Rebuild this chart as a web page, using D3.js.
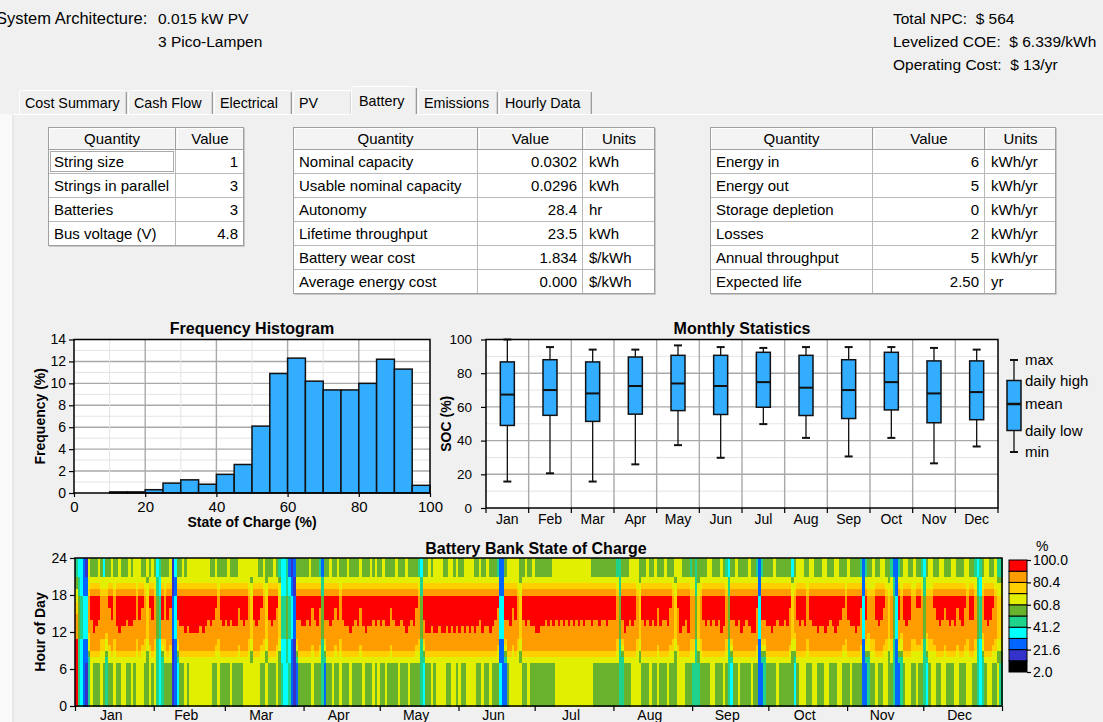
<!DOCTYPE html>
<html>
<head>
<meta charset="utf-8">
<script src="https://cdn.jsdelivr.net/npm/d3@7"></script>
<style>
  html, body { margin: 0; padding: 0; background: #f0f0f0; }
  svg { display: block; font-family: "Liberation Sans", Arial, sans-serif; }
  text { fill: #000; }
</style>
</head>
<body>
<svg id="chart" width="1103" height="722"></svg>
<script>
// ---------------- summary header ----------------
const architectureLabel = "System Architecture:";
const architecture = ["0.015 kW PV", "3 Pico-Lampen"];
const summaryLabels = ["Total NPC:", "Levelized COE:", "Operating Cost:"];
const summaryValues = ["$ 564", "$ 6.339/kWh", "$ 13/yr"];
const tabNames = ["Cost Summary", "Cash Flow", "Electrical", "PV", "Battery", "Emissions", "Hourly Data"];
const activeTab = "Battery";

// ---------------- battery tables ----------------
const stringQuantities = ["String size", "Strings in parallel", "Batteries", "Bus voltage (V)"];
const stringValues = ["1", "3", "3", "4.8"];

const capacityQuantities = ["Nominal capacity", "Usable nominal capacity", "Autonomy", "Lifetime throughput", "Battery wear cost", "Average energy cost"];
const capacityValues = ["0.0302", "0.0296", "28.4", "23.5", "1.834", "0.000"];
const capacityUnits = ["kWh", "kWh", "hr", "kWh", "$/kWh", "$/kWh"];

const energyQuantities = ["Energy in", "Energy out", "Storage depletion", "Losses", "Annual throughput", "Expected life"];
const energyValues = ["6", "5", "0", "2", "5", "2.50"];
const energyUnits = ["kWh/yr", "kWh/yr", "kWh/yr", "kWh/yr", "kWh/yr", "yr"];

// ---------------- frequency histogram (5 % SOC bins) ----------------
const socBinStarts = [0, 5, 10, 15, 20, 25, 30, 35, 40, 45, 50, 55, 60, 65, 70, 75, 80, 85, 90, 95];
const socFrequency = [0, 0, 0.1, 0.1, 0.3, 0.9, 1.2, 0.8, 1.7, 2.6, 6.1, 10.9, 12.3, 10.2, 9.4, 9.4, 10.0, 12.2, 11.3, 0.7];

// ---------------- monthly statistics ----------------
const months = ["Jan", "Feb", "Mar", "Apr", "May", "Jun", "Jul", "Aug", "Sep", "Oct", "Nov", "Dec"];
const monthDays = [31, 28, 31, 30, 31, 30, 31, 31, 30, 31, 30, 31];
const socMax       = [100, 95.5, 94, 94, 96.5, 95.5, 95, 95.5, 95.5, 95.5, 95, 94];
const socDailyHigh = [86.7, 88, 86.7, 89.6, 90.6, 90.6, 92.4, 90.6, 88, 92.4, 87.3, 87.3];
const socMean      = [67.3, 70, 68, 72.4, 73.9, 72.4, 74.7, 71.4, 70, 74.7, 68, 68.8];
const socDailyLow  = [49, 55, 51.4, 55.7, 57.8, 55.5, 59.8, 54.9, 53.1, 58.2, 50.6, 52.4];
const socMin       = [15.7, 20.6, 15.7, 25.9, 37.3, 29.8, 49.8, 41.6, 30.6, 41.6, 26.5, 36.5];
const boxLegendLabels = ["max", "daily high", "mean", "daily low", "min"];

// ---------------- battery bank state of charge ----------------
// SOC class edges (%) and class colours, class 0 = lowest
const socBandEdges = [2.0, 11.8, 21.6, 31.4, 41.2, 51.0, 60.8, 70.6, 80.4, 90.2, 100.0];
const socColors = ["#000000", "#3333cc", "#0066ff", "#00ffff", "#1fd38d", "#69b22e", "#e2ef00", "#ffcf00", "#ff9d00", "#ff0000"];
// Daytime SOC classes for hours 7..20
const dayShapes = {
  R: "99998888776655",
  K: "67888999999876",
  A: "67888899999876",
  B: "67888889999876",
  C: "66788888899876",
  D: "66778888888766",
  E: "55667777777665",
  F: "55556666666555",
  G: "44445555555444",
  H: "33334444444333",
  I: "22223333333222",
  J: "11112222222111",
  L: "45678889999876",
  M: "45667888888766"
};
// One token per day: SOC class for hours 0-6, daytime shape, SOC class for hours 21-23
const socJan = "9R4 4G3 3H3 2I2 1I1 4M6 6B5 5K5 5A5 5B6 6D5 5D3 4M5 5C5 5B6 6D5 5A5 5K6 6A5 6A5 5B5 5A6 6A5 5B6 6D6 6B6 6C5 5D5 5E6 6C5 5B6";
const socFeb = "6D5 4G3 3H4 4L5 5D5 5B5 5C6 1J1 2I3 3L5 5A5 5A6 6K5 5A6 6K6 6K6 6K6 6K6 6A6 6K6 6A6 6B6 6A5 5B5 5C6 6D5 5B5 5A5";
const socMar = "5B5 5A6 6B5 5A5 5A5 5C6 5B6 6A6 6B6 6D6 6E6 6B6 6A6 6B5 5C5 5D6 6E5 5B5 5A5 5B6 6C5 5E4 4H3 3H3 3G4 4H2 2I1 1J2 2L5 5B5 5A5";
const socApr = "5A5 5B5 5A6 6C5 5B5 5A5 5C4 4G2 2L5 5B5 5A6 6B5 5C5 5B6 6D5 5B5 5A5 5A6 6K5 5A5 5B5 5A5 5C6 6A5 5K5 5A5 5A6 6B5 5A6 6B5";
const socMay = "5A5 5B6 6A5 5A5 5C5 5B5 5A6 6A5 5B5 5A5 5K6 6A5 5B5 5A5 5C5 5D4 4G3 3L5 5K5 5K6 6A5 5K6 6K6 6A6 6K6 6K5 5A5 5K6 6A6 6K5 5A6";
const socJun = "6K5 5A5 5K6 6A6 6K6 6A6 6K5 5A5 5B6 6K5 5A5 5A6 6K5 5A5 5B5 5C4 3I2 2I2 2L5 5B6 6A6 6C6 6B6 6D6 6E5 5B5 5A6 6B5 5A5 5A6";
const socJul = "5K5 5K5 5A5 5A5 5B5 5A5 5B5 5A6 6B6 6A6 6B6 6A6 6B6 6A6 6B6 6A6 6B6 6A6 6B6 6A6 6B6 6B6 6A5 5B5 5B5 5A5 5B5 5B5 5A5 5B5 5B5";
const socAug = "5B5 5D4 4G4 4L5 5K5 5A5 5B6 6A6 6B6 6D6 6E5 5B5 5A5 5B6 6A5 5B5 5A6 6C5 5A5 5B5 5B6 6A5 5C5 5D5 5E6 6C6 6K6 6A5 5B5 5K5 5D4";
const socSep = "4D5 4G4 4E5 5D5 5B5 5A5 5B6 6A6 6B5 5A5 5B5 5K6 6A5 5D4 4G3 3L5 5B5 5A6 6B5 5K5 5A5 5B5 5A6 6K5 5K5 5C4 2I2 2L4 4L5 5A5";
const socOct = "5A5 5K5 5A6 6B5 5A5 5A5 5B5 5A5 5C5 5E3 3M5 5B6 6A6 6B6 6A5 5D5 5B6 6A6 6A5 5K5 5A5 5A6 6K6 6A5 5B5 5A5 5K6 6A6 6B5 5C5 5D5";
const socNov = "5B6 6A5 5A5 5K5 5A5 5C4 2I2 2L4 4M5 5D5 5D6 6B5 5A5 5B6 6C6 6D5 5E5 5D4 4G2 2I2 2L4 4M5 5B6 6A6 6B5 5D5 5D6 6C5 5C5 5D4";
const socDec = "4G3 3M5 5D6 6D6 6C5 5B5 5A6 6B6 6C5 5B5 5A5 5B6 6A6 6C5 5B5 5A5 5C6 6D6 6B5 5B5 5D4 4G3 3H4 4M5 5B6 6A6 6B5 5C5 5D6 6E4 4E4";
const socByMonth = [socJan, socFeb, socMar, socApr, socMay, socJun, socJul, socAug, socSep, socOct, socNov, socDec];
const socLegendTicks = [2.0, 21.6, 41.2, 60.8, 80.4, 100.0];
const hourTicks = [0, 6, 12, 18, 24];

// =================================================================
const svg = d3.select("#chart");
const W = 1103, H = 722;

svg.append("rect").attr("width", W).attr("height", H).attr("fill", "#f0f0f0");

// ---- header text ----
const hdr = svg.append("g").style("font-size", "15.5px");
hdr.append("text").attr("x", -4).attr("y", 24).style("font-size", "16.5px").text(architectureLabel);
hdr.selectAll(".arch").data(architecture).join("text")
  .attr("x", 158).attr("y", (d, i) => 24 + i * 23).text(d => d);
hdr.selectAll(".sum").data(summaryLabels).join("text")
  .attr("x", 893).attr("y", (d, i) => 24 + i * 23)
  .text((d, i) => d + "\u00a0\u00a0" + summaryValues[i]);

// ---- tab strip ----
const tabEdges = [18, 127, 213, 292, 352, 417, 498, 592];
const tabs = svg.append("g").style("font-size", "14.3px");
tabs.append("rect").attr("x", 0).attr("y", 114).attr("width", 13).attr("height", H - 114).attr("fill", "#f9f9f9");
tabs.append("line").attr("x1", 13).attr("x2", 13).attr("y1", 114).attr("y2", H).attr("stroke", "#dadada");
tabs.append("line").attr("x1", 13).attr("x2", W).attr("y1", 114.5).attr("y2", 114.5).attr("stroke", "#ffffff");
tabNames.forEach((name, i) => {
  const active = name === activeTab;
  const x0 = tabEdges[i] + (active ? -1 : 1), x1 = tabEdges[i + 1];
  const top = active ? 86 : 90;
  const g = tabs.append("g");
  if (active) {
    g.append("rect").attr("x", x0).attr("y", top).attr("width", x1 - x0).attr("height", 30).attr("fill", "#f0f0f0");
  }
  g.append("path").attr("d", `M${x0 + 0.5},114 V${top + 2.5} Q${x0 + 0.5},${top + 0.5} ${x0 + 2.5},${top + 0.5} H${x1 - 2}`)
    .attr("fill", "none").attr("stroke", "#ffffff");
  g.append("line").attr("x1", x1 - 0.5).attr("x2", x1 - 0.5).attr("y1", top + 2).attr("y2", 114)
    .attr("stroke", "#9a9a9a");
  g.append("line").attr("x1", x1 - 1.5).attr("x2", x1 - 1.5).attr("y1", top + 2).attr("y2", 114)
    .attr("stroke", "#d6d6d6");
  g.append("text").attr("x", tabEdges[i] + 7).attr("y", active ? 106 : 108).text(name);
});

// ---- tables ----
function drawTable(colEdges, headers, columns, aligns) {
  const top = 127, headH = 23, rowH = 24;
  const nRows = columns[0].length;
  const x0 = colEdges[0], x1 = colEdges[colEdges.length - 1];
  const bottom = top + headH + nRows * rowH;
  const g = svg.append("g").style("font-size", "15px");
  g.append("rect").attr("x", x0).attr("y", top).attr("width", x1 - x0).attr("height", bottom - top).attr("fill", "#ffffff");
  headers.forEach((h, c) => {
    const a = colEdges[c], b = colEdges[c + 1];
    g.append("rect").attr("x", a).attr("y", top).attr("width", b - a).attr("height", headH).attr("fill", "#f4f4f4");
    g.append("path").attr("d", `M${a + 1.5},${top + headH - 1} V${top + 1.5} H${b - 1}`).attr("fill", "none").attr("stroke", "#ffffff");
    g.append("line").attr("x1", b - 0.5).attr("x2", b - 0.5).attr("y1", top).attr("y2", top + headH).attr("stroke", "#a0a0a0");
    g.append("text").attr("x", (a + b) / 2).attr("y", top + 17).attr("text-anchor", "middle").text(h);
  });
  g.append("line").attr("x1", x0).attr("x2", x1).attr("y1", top + headH - 0.5).attr("y2", top + headH - 0.5).attr("stroke", "#a0a0a0");
  d3.range(1, nRows + 1).forEach(r => {
    const y = top + headH + r * rowH - 0.5;
    g.append("line").attr("x1", x0).attr("x2", x1).attr("y1", y).attr("y2", y).attr("stroke", "#b9b9b9");
  });
  colEdges.slice(1, -1).forEach(x => {
    g.append("line").attr("x1", x - 0.5).attr("x2", x - 0.5).attr("y1", top + headH).attr("y2", bottom).attr("stroke", "#b9b9b9");
  });
  columns.forEach((col, c) => {
    const a = colEdges[c], b = colEdges[c + 1];
    g.selectAll(null).data(col).join("text")
      .attr("x", aligns[c] === "end" ? b - 6 : a + 6)
      .attr("y", (d, r) => top + headH + r * rowH + 17)
      .attr("text-anchor", aligns[c])
      .text(d => d);
  });
  g.append("rect").attr("x", x0 + 0.5).attr("y", top + 0.5).attr("width", x1 - x0 - 1).attr("height", bottom - top - 1)
    .attr("fill", "none").attr("stroke", "#a0a0a0");
  g.append("path").attr("d", `M${x1 + 0.5},${top + 1} V${bottom + 0.5} H${x0 + 1}`).attr("fill", "none").attr("stroke", "#c8c8c8");
  return g;
}
const t1 = drawTable([48, 176, 244], ["Quantity", "Value"], [stringQuantities, stringValues], ["start", "end"]);
t1.append("rect").attr("x", 50.5).attr("y", 151.5).attr("width", 123).attr("height", 20)
  .attr("fill", "none").attr("stroke", "#555").attr("stroke-dasharray", "1,1");
drawTable([293, 478, 583, 655], ["Quantity", "Value", "Units"], [capacityQuantities, capacityValues, capacityUnits], ["start", "end", "start"]);
drawTable([710, 873, 985, 1056], ["Quantity", "Value", "Units"], [energyQuantities, energyValues, energyUnits], ["start", "end", "start"]);

// ---- common axis styling ----
function styleAxis(g, size) {
  g.select(".domain").remove();
  g.selectAll(".tick line").attr("stroke", "#000").attr("stroke-width", 1.2);
  g.selectAll(".tick text").attr("fill", "#111").style("font-size", size || "13px")
    .style("font-family", "'Liberation Sans', Arial, sans-serif");
}
const titleStyle = s => s.style("font-size", "16px").style("font-weight", "bold").attr("text-anchor", "middle");
const axisTitleStyle = s => s.style("font-size", "14px").style("font-weight", "bold").attr("text-anchor", "middle").attr("fill", "#111");

// =================== Frequency Histogram ===================
const hx = d3.scaleLinear().domain([0, 100]).range([74, 430]);
const hy = d3.scaleLinear().domain([0, 14]).range([493, 339.5]);
const hist = svg.append("g");
hist.append("rect").attr("x", hx(0)).attr("y", hy(14)).attr("width", hx(100) - hx(0)).attr("height", hy(0) - hy(14)).attr("fill", "#fff");
hist.selectAll(".gy").data(d3.range(1, 14)).join("line")
  .attr("x1", hx(0)).attr("x2", hx(100)).attr("y1", d => hy(d)).attr("y2", d => hy(d))
  .attr("stroke", d => d % 2 ? "#e4e4e4" : "#a9a9a9").attr("stroke-width", d => d % 2 ? 1 : 1.4);
hist.selectAll(".gx").data(d3.range(10, 100, 10)).join("line")
  .attr("y1", hy(0)).attr("y2", hy(14)).attr("x1", d => hx(d)).attr("x2", d => hx(d))
  .attr("stroke", d => d % 20 ? "#e4e4e4" : "#a9a9a9").attr("stroke-width", d => d % 20 ? 1 : 1.4);
hist.selectAll(".bar").data(socBinStarts).join("rect")
  .attr("x", d => hx(d)).attr("width", d => hx(d + 5) - hx(d))
  .attr("y", (d, i) => hy(socFrequency[i])).attr("height", (d, i) => hy(0) - hy(socFrequency[i]))
  .attr("fill", "#33adff").attr("stroke", "#111").attr("stroke-width", 1.5);
hist.append("rect").attr("x", hx(0)).attr("y", hy(14)).attr("width", hx(100) - hx(0)).attr("height", hy(0) - hy(14))
  .attr("fill", "none").attr("stroke", "#000").attr("stroke-width", 1.5);
hist.append("g").attr("transform", `translate(${hx(0)},0)`)
  .call(d3.axisLeft(hy).tickValues(d3.range(0, 15, 2)).tickSize(5).tickPadding(3))
  .call(g => styleAxis(g, "14px"));
hist.append("g").attr("transform", `translate(0,${hy(0)})`)
  .call(d3.axisBottom(hx).tickValues(d3.range(0, 101, 20)).tickSize(4).tickPadding(4))
  .call(g => styleAxis(g, "15px"));
hist.append("text").attr("x", (hx(0) + hx(100)) / 2).attr("y", 334).text("Frequency Histogram").call(titleStyle);
hist.append("text").attr("x", (hx(0) + hx(100)) / 2).attr("y", 527).text("State of Charge (%)").call(axisTitleStyle);
hist.append("text").attr("transform", `translate(45,${(hy(0) + hy(14)) / 2}) rotate(-90)`).text("Frequency (%)").call(axisTitleStyle);

// =================== Monthly Statistics ===================
const bx = d3.scaleBand().domain(months).range([486, 998]);
const by = d3.scaleLinear().domain([0, 100]).range([508, 339.5]);
const box = svg.append("g");
box.append("rect").attr("x", 486).attr("y", by(100)).attr("width", 512).attr("height", by(0) - by(100)).attr("fill", "#fff");
box.selectAll(".gy").data(d3.range(10, 100, 10)).join("line")
  .attr("x1", 486).attr("x2", 998).attr("y1", d => by(d)).attr("y2", d => by(d))
  .attr("stroke", d => d % 20 ? "#e4e4e4" : "#a9a9a9").attr("stroke-width", d => d % 20 ? 1 : 1.4);
box.selectAll(".gx").data(months.slice(1)).join("line")
  .attr("x1", d => bx(d)).attr("x2", d => bx(d)).attr("y1", by(0)).attr("y2", by(100))
  .attr("stroke", "#a9a9a9").attr("stroke-width", 1.4);
const cx = m => bx(m) + bx.bandwidth() / 2;
const boxW = 14, capW = 8;
const mb = box.selectAll(".mbox").data(months).join("g");
mb.append("line").attr("x1", cx).attr("x2", cx).attr("y1", (d, i) => by(socMax[i])).attr("y2", (d, i) => by(socMin[i]))
  .attr("stroke", "#111").attr("stroke-width", 1.3);
mb.append("line").attr("x1", d => cx(d) - capW / 2).attr("x2", d => cx(d) + capW / 2)
  .attr("y1", (d, i) => by(socMax[i])).attr("y2", (d, i) => by(socMax[i])).attr("stroke", "#111").attr("stroke-width", 2);
mb.append("line").attr("x1", d => cx(d) - capW / 2).attr("x2", d => cx(d) + capW / 2)
  .attr("y1", (d, i) => by(socMin[i])).attr("y2", (d, i) => by(socMin[i])).attr("stroke", "#111").attr("stroke-width", 2);
mb.append("rect").attr("x", d => cx(d) - boxW / 2).attr("width", boxW)
  .attr("y", (d, i) => by(socDailyHigh[i])).attr("height", (d, i) => by(socDailyLow[i]) - by(socDailyHigh[i]))
  .attr("fill", "#33adff").attr("stroke", "#111").attr("stroke-width", 1.5);
mb.append("line").attr("x1", d => cx(d) - boxW / 2).attr("x2", d => cx(d) + boxW / 2)
  .attr("y1", (d, i) => by(socMean[i])).attr("y2", (d, i) => by(socMean[i])).attr("stroke", "#111").attr("stroke-width", 2);
box.append("rect").attr("x", 486).attr("y", by(100)).attr("width", 512).attr("height", by(0) - by(100))
  .attr("fill", "none").attr("stroke", "#000").attr("stroke-width", 1.5);
box.append("g").attr("transform", "translate(486,0)")
  .call(d3.axisLeft(by).tickValues(d3.range(0, 101, 20)).tickSize(5).tickPadding(9))
  .call(g => styleAxis(g, "13.5px"));
box.append("g").attr("transform", `translate(0,${by(0)})`)
  .call(d3.axisBottom(bx).tickSize(0).tickPadding(6))
  .call(g => styleAxis(g, "14px"));
box.selectAll(".mtick").data(months.map(m => bx(m)).concat([998])).join("line")
  .attr("x1", d => d).attr("x2", d => d).attr("y1", by(0)).attr("y2", by(0) + 5).attr("stroke", "#000").attr("stroke-width", 1.2);
box.append("text").attr("x", 742).attr("y", 334).text("Monthly Statistics").call(titleStyle);
box.append("text").attr("transform", `translate(451,${(by(0) + by(100)) / 2}) rotate(-90)`).text("SOC (%)").call(axisTitleStyle);
// legend
const lg = box.append("g");
const lgY = [360, 380.5, 404, 430.5, 452];
lg.append("line").attr("x1", 1014).attr("x2", 1014).attr("y1", lgY[0]).attr("y2", lgY[4]).attr("stroke", "#111").attr("stroke-width", 1.3);
[lgY[0], lgY[4]].forEach(y => lg.append("line").attr("x1", 1010).attr("x2", 1018).attr("y1", y).attr("y2", y).attr("stroke", "#111").attr("stroke-width", 2));
lg.append("rect").attr("x", 1007).attr("y", lgY[1]).attr("width", boxW).attr("height", lgY[3] - lgY[1])
  .attr("fill", "#33adff").attr("stroke", "#111").attr("stroke-width", 1.5);
lg.append("line").attr("x1", 1007).attr("x2", 1021).attr("y1", lgY[2]).attr("y2", lgY[2]).attr("stroke", "#111").attr("stroke-width", 2.5);
lg.selectAll("text").data(boxLegendLabels).join("text")
  .attr("x", 1025).attr("y", (d, i) => lgY[i] + 5).style("font-size", "15px").attr("fill", "#111").text(d => d);

// =================== Battery Bank State of Charge ===================
const monthStarts = [0, ...d3.cumsum(monthDays)];
const nDays = monthStarts[monthStarts.length - 1];
const sx = d3.scaleLinear().domain([0, nDays]).range([75, 1002]);
const sy = d3.scaleLinear().domain([0, 24]).range([706, 558]);
const socColor = d3.scaleThreshold().domain(socBandEdges.slice(1, -1)).range(socColors);

const hourly = [];
let dayIndex = 0;
socByMonth.forEach(str => {
  str.trim().split(/\s+/).forEach(tok => {
    const night = +tok[0], shape = dayShapes[tok[1]], evening = +tok[2];
    for (let h = 0; h < 24; h++) {
      const cls = h < 7 ? night : (h > 20 ? evening : +shape[h - 7]);
      const soc = (socBandEdges[cls] + socBandEdges[cls + 1]) / 2;
      hourly.push({ day: dayIndex, hour: h, soc });
    }
    dayIndex++;
  });
});

const hm = svg.append("g");
hm.append("g").attr("shape-rendering", "crispEdges").selectAll("rect").data(hourly).join("rect")
  .attr("x", d => sx(d.day)).attr("width", d => sx(d.day + 1) - sx(d.day) + 0.6)
  .attr("y", d => sy(d.hour + 1)).attr("height", d => sy(d.hour) - sy(d.hour + 1) + 0.6)
  .attr("fill", d => socColor(d.soc));
hm.append("rect").attr("x", sx(0)).attr("y", sy(24)).attr("width", sx(nDays) - sx(0)).attr("height", sy(0) - sy(24))
  .attr("fill", "none").attr("stroke", "#000").attr("stroke-width", 1.5);
hm.append("g").attr("transform", `translate(${sx(0)},0)`)
  .call(d3.axisLeft(sy).tickValues(hourTicks).tickSize(5).tickPadding(3))
  .call(g => styleAxis(g, "14px"));
hm.append("g").attr("transform", `translate(0,${sy(0)})`)
  .call(d3.axisBottom(sx).tickValues(monthStarts).tickSize(5).tickFormat("")).call(styleAxis);
hm.selectAll(".ml").data(months).join("text")
  .attr("x", (d, i) => sx((monthStarts[i] + monthStarts[i + 1]) / 2) - 3).attr("y", 720)
  .attr("text-anchor", "middle").style("font-size", "14px").attr("fill", "#111").text(d => d);
hm.append("text").attr("x", 536).attr("y", 554).text("Battery Bank State of Charge").call(titleStyle);
hm.append("text").attr("transform", `translate(45,${(sy(0) + sy(24)) / 2}) rotate(-90)`).text("Hour of Day").call(axisTitleStyle);

// colour legend
const cy = d3.scaleLinear().domain([2, 100]).range([672, 560]);
const cb = hm.append("g");
cb.selectAll("rect").data(socColors).join("rect")
  .attr("x", 1009).attr("width", 18)
  .attr("y", (d, i) => cy(socBandEdges[i + 1])).attr("height", (d, i) => cy(socBandEdges[i]) - cy(socBandEdges[i + 1]))
  .attr("fill", d => d).attr("stroke", "#000").attr("stroke-width", 1);
cb.append("g").attr("transform", "translate(1027,0)")
  .call(d3.axisRight(cy).tickValues(socLegendTicks).tickSize(4).tickPadding(2).tickFormat(d3.format(".1f")))
  .call(g => styleAxis(g, "14px"));
cb.append("text").attr("x", 1036).attr("y", 551).style("font-size", "14px").attr("fill", "#111").text("%");
</script>
</body>
</html>
